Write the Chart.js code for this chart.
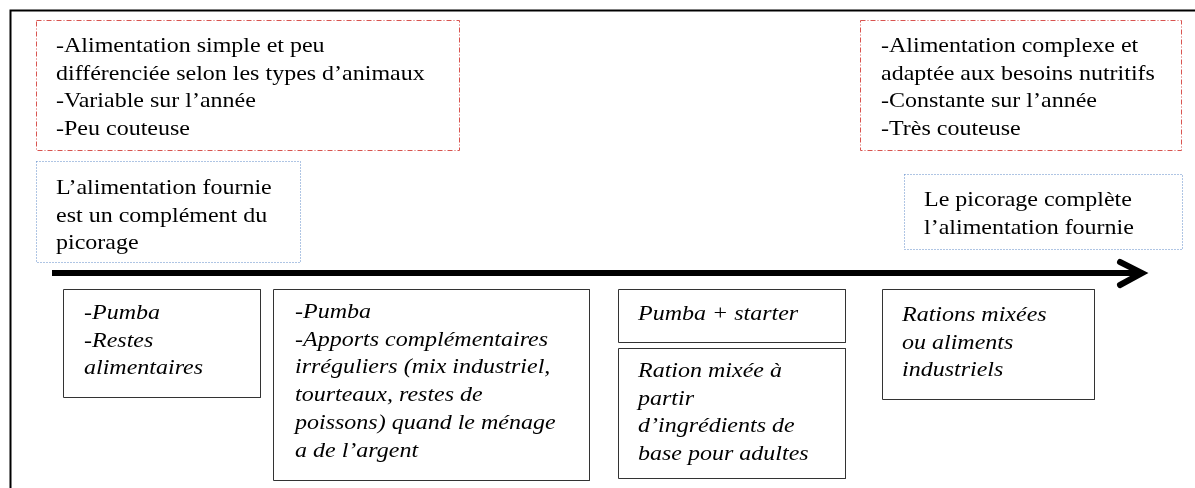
<!DOCTYPE html>
<html><head><meta charset="utf-8">
<script src="https://cdn.jsdelivr.net/npm/chart.js@4"></script>
<style>html,body{margin:0;padding:0;background:#fff;}canvas{display:block;}</style>
</head><body>
<canvas id="c" width="1195" height="488"></canvas>
<script>
// Box labels (text content)
const boxTexts = [
  ["-Alimentation simple et peu", "différenciée selon les types d’animaux", "-Variable sur l’année", "-Peu couteuse"],
  ["-Alimentation complexe et", "adaptée aux besoins nutritifs", "-Constante sur l’année", "-Très couteuse"],
  ["L’alimentation fournie", "est un complément du", "picorage"],
  ["Le picorage complète", "l’alimentation fournie"],
  ["-Pumba", "-Restes", "alimentaires"],
  ["-Pumba", "-Apports complémentaires", "irréguliers (mix industriel,", "tourteaux, restes de", "poissons) quand le ménage", "a de l’argent"],
  ["Pumba + starter"],
  ["Ration mixée à", "partir", "d’ingrédients de", "base pour adultes"],
  ["Rations mixées", "ou aliments", "industriels"]
];
// Box extents on the diagram grid
const boxLeft   = [36.5, 860.5, 36.5, 904.5, 63.5, 273.5, 618.5, 618.5, 882.5];
const boxRight  = [459.5, 1181.5, 300.5, 1182.5, 260.5, 589.5, 845.5, 845.5, 1094.5];
const boxTop    = [20.5, 20.5, 161.5, 174.5, 289.5, 289.5, 289.5, 348.5, 289.5];
const boxBottom = [150.5, 150.5, 262.5, 249.5, 397.5, 480.5, 342.5, 478.5, 399.5];
const boxKind   = ["dashdot", "dashdot", "dotted", "dotted", "solid", "solid", "solid", "solid", "solid"];
const textLeft  = [56, 881, 56, 924, 84, 295, 638, 638, 902];
const textFirstBaseline = [52, 52, 194, 206, 319, 318, 320, 377, 321];
const lineStep = 27.7;
// Timeline arrow
const arrowX = [52, 1140];
const arrowY = [273, 273];
const headX = [1120, 1142, 1120];
const headY = [262, 273, 285];
// Outer frame
const frameX = [10.5, 10.5, 1210];
const frameY = [500, 10.5, 10.5];

const kindStyle = {
  dashdot: {color: "#d9534f", dash: [5, 2, 1, 2]},
  dotted: {color: "#5f8ac8", dash: [1, 2]},
  solid: {color: "#333333", dash: []}
};

const datasets = [];
datasets.push({data: frameX.map((x, i) => ({x, y: frameY[i]})), borderColor: "#000", borderWidth: 2});
boxLeft.forEach((l, i) => {
  const s = kindStyle[boxKind[i]];
  datasets.push({
    data: [{x: l, y: boxTop[i]}, {x: boxRight[i], y: boxTop[i]}, {x: boxRight[i], y: boxBottom[i]}, {x: l, y: boxBottom[i]}, {x: l, y: boxTop[i]}],
    borderColor: s.color, borderDash: s.dash, borderWidth: 1
  });
});
datasets.push({data: arrowX.map((x, i) => ({x, y: arrowY[i]})), borderColor: "#000", borderWidth: 6});
datasets.push({data: headX.map((x, i) => ({x, y: headY[i]})), borderColor: "#000", borderWidth: 6, borderCapStyle: "round", borderJoinStyle: "miter"});
datasets.forEach(d => Object.assign(d, {showLine: true, pointRadius: 0, fill: false, tension: 0, clip: false}));

const textPlugin = {
  id: "boxText",
  afterDatasetsDraw(chart) {
    const ctx = chart.ctx, xs = chart.scales.x, ys = chart.scales.y;
    ctx.save();
    ctx.fillStyle = "#000";
    ctx.textBaseline = "alphabetic";
    boxTexts.forEach((lines, i) => {
      ctx.font = (i >= 4 ? "italic " : "") + "24px 'Liberation Serif'";
      lines.forEach((t, k) => {
        ctx.save();
        ctx.translate(xs.getPixelForValue(textLeft[i]), ys.getPixelForValue(textFirstBaseline[i] + k * lineStep));
        ctx.scale(1, 0.87);
        ctx.fillText(t, 0, 0);
        ctx.restore();
      });
    });
    ctx.restore();
  }
};

new Chart(document.getElementById("c"), {
  type: "scatter",
  data: {datasets},
  options: {
    responsive: false, animation: false, devicePixelRatio: 1,
    layout: {padding: 0},
    plugins: {legend: {display: false}, tooltip: {enabled: false}},
    scales: {
      x: {type: "linear", min: 0, max: 1195, display: false},
      y: {type: "linear", min: 0, max: 488, reverse: true, display: false}
    }
  },
  plugins: [textPlugin]
});
</script>
</body></html>
